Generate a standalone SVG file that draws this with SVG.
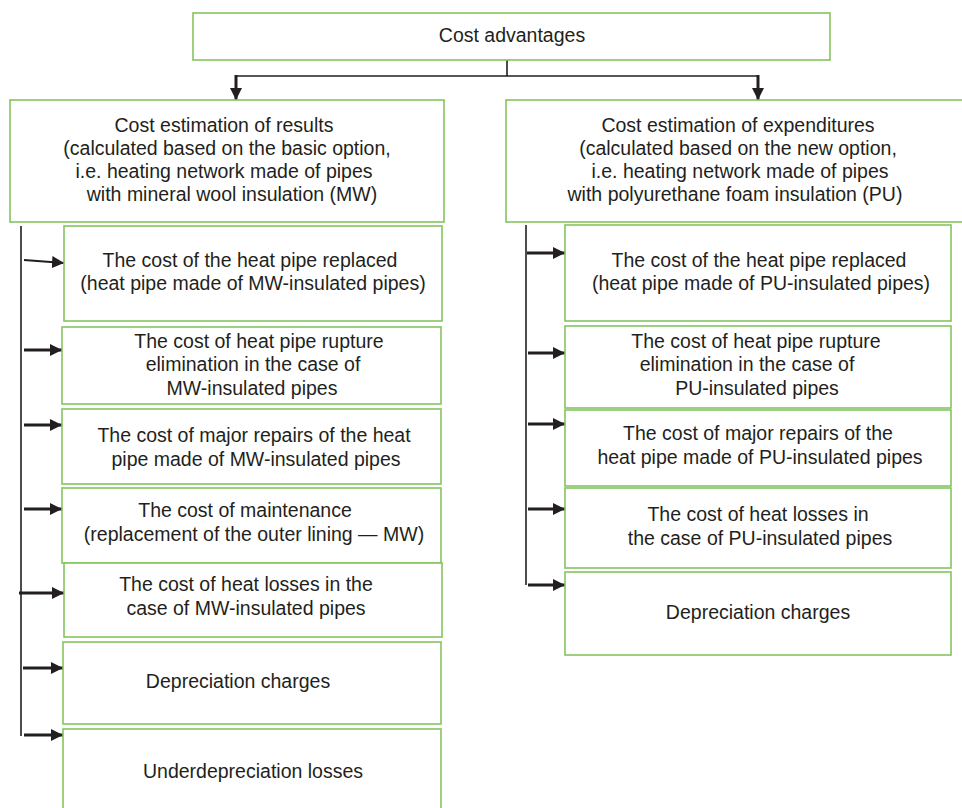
<svg xmlns="http://www.w3.org/2000/svg" width="962" height="808" viewBox="0 0 962 808">
<style>
.box{fill:#fff;stroke:#84c45f;stroke-width:1.6}
.t{font-family:"Liberation Sans",Arial,sans-serif;font-size:19.5px;fill:#231f20;text-anchor:middle}
.ln{stroke:#231f20;stroke-width:1.6;fill:none}
.ar{stroke:#231f20;stroke-width:3;fill:none;marker-end:url(#ah)}
</style>
<defs>
<marker id="ah" markerUnits="userSpaceOnUse" markerWidth="14" markerHeight="12" refX="12" refY="6" orient="auto">
<path d="M0,0 L12,6 L0,12 Z" fill="#231f20"/>
</marker>
</defs>
<rect width="962" height="808" fill="#fff"/>
<g id="connectors">
<path class="ln" d="M507,60 V76 M236,76 H758"/>
<path class="ar" d="M236,75 V100"/>
<path class="ar" d="M758,75 V100"/>
<path class="ln" d="M21,226 V736"/>
<path class="ln" d="M526,225 V585"/>
<path d="M24,260 L64,263" stroke="#231f20" stroke-width="2" marker-end="url(#ah)"/>
<path class="ar" d="M24,350 H62"/>
<path class="ar" d="M24,425 H62"/>
<path class="ar" d="M24,509 H62"/>
<path class="ar" d="M19,593 H64"/>
<path class="ar" d="M23,668 H63"/>
<path class="ar" d="M24,735 H63"/>
<path class="ar" d="M527,253 H565"/>
<path class="ar" d="M528,353 H565"/>
<path class="ar" d="M528,424 H565"/>
<path class="ar" d="M528,509 H565"/>
<path class="ar" d="M528,585 H565"/>
</g>
<g id="top">
<rect class="box" x="193" y="13" width="637" height="47"/>
<text class="t" x="512" y="42">Cost advantages</text>
</g>
<g id="left-head">
<rect class="box" x="10" y="100" width="434" height="122"/>
<text class="t" x="224" y="132">Cost estimation of results</text>
<text class="t" x="227" y="155">(calculated based on the basic option,</text>
<text class="t" x="224" y="178">i.e. heating network made of pipes</text>
<text class="t" x="232" y="201">with mineral wool insulation (MW)</text>
</g>
<g id="right-head">
<rect class="box" x="506" y="100" width="460" height="122"/>
<text class="t" x="738" y="132">Cost estimation of expenditures</text>
<text class="t" x="738" y="155">(calculated based on the new option,</text>
<text class="t" x="740" y="178">i.e. heating network made of pipes</text>
<text class="t" x="735" y="201">with polyurethane foam insulation (PU)</text>
</g>
<g id="l1">
<rect class="box" x="64" y="226" width="378" height="95"/>
<text class="t" x="250" y="267">The cost of the heat pipe replaced</text>
<text class="t" x="253" y="290">(heat pipe made of MW-insulated pipes)</text>
</g>
<g id="l2">
<rect class="box" x="62" y="327" width="379" height="77"/>
<text class="t" x="259" y="348">The cost of heat pipe rupture</text>
<text class="t" x="253" y="371">elimination in the case of</text>
<text class="t" x="252" y="395">MW-insulated pipes</text>
</g>
<g id="l3">
<rect class="box" x="62" y="409" width="379" height="75"/>
<text class="t" x="254" y="442">The cost of major repairs of the heat</text>
<text class="t" x="256" y="466">pipe made of MW-insulated pipes</text>
</g>
<g id="l4">
<rect class="box" x="62" y="488" width="379" height="75"/>
<text class="t" x="245" y="517">The cost of maintenance</text>
<text class="t" x="254" y="541">(replacement of the outer lining — MW)</text>
</g>
<g id="l5">
<rect class="box" x="64" y="563" width="378" height="74"/>
<text class="t" x="246" y="591">The cost of heat losses in the</text>
<text class="t" x="246" y="615">case of MW-insulated pipes</text>
</g>
<g id="l6">
<rect class="box" x="63" y="642" width="378" height="82"/>
<text class="t" x="238" y="688">Depreciation charges</text>
</g>
<g id="l7">
<rect class="box" x="63" y="729" width="378" height="85"/>
<text class="t" x="253" y="778">Underdepreciation losses</text>
</g>
<g id="r1">
<rect class="box" x="565" y="225" width="386" height="96"/>
<text class="t" x="759" y="267">The cost of the heat pipe replaced</text>
<text class="t" x="761" y="290">(heat pipe made of PU-insulated pipes)</text>
</g>
<g id="r2">
<rect class="box" x="565" y="326" width="386" height="82"/>
<text class="t" x="756" y="348">The cost of heat pipe rupture</text>
<text class="t" x="747" y="371">elimination in the case of</text>
<text class="t" x="757" y="395">PU-insulated pipes</text>
</g>
<g id="r3">
<rect class="box" x="565" y="410" width="386" height="76"/>
<text class="t" x="758" y="440">The cost of major repairs of the</text>
<text class="t" x="760" y="464">heat pipe made of PU-insulated pipes</text>
</g>
<g id="r4">
<rect class="box" x="565" y="488" width="386" height="80"/>
<text class="t" x="758" y="521">The cost of heat losses in</text>
<text class="t" x="760" y="545">the case of PU-insulated pipes</text>
</g>
<g id="r5">
<rect class="box" x="565" y="572" width="386" height="83"/>
<text class="t" x="758" y="619">Depreciation charges</text>
</g>
</svg>
